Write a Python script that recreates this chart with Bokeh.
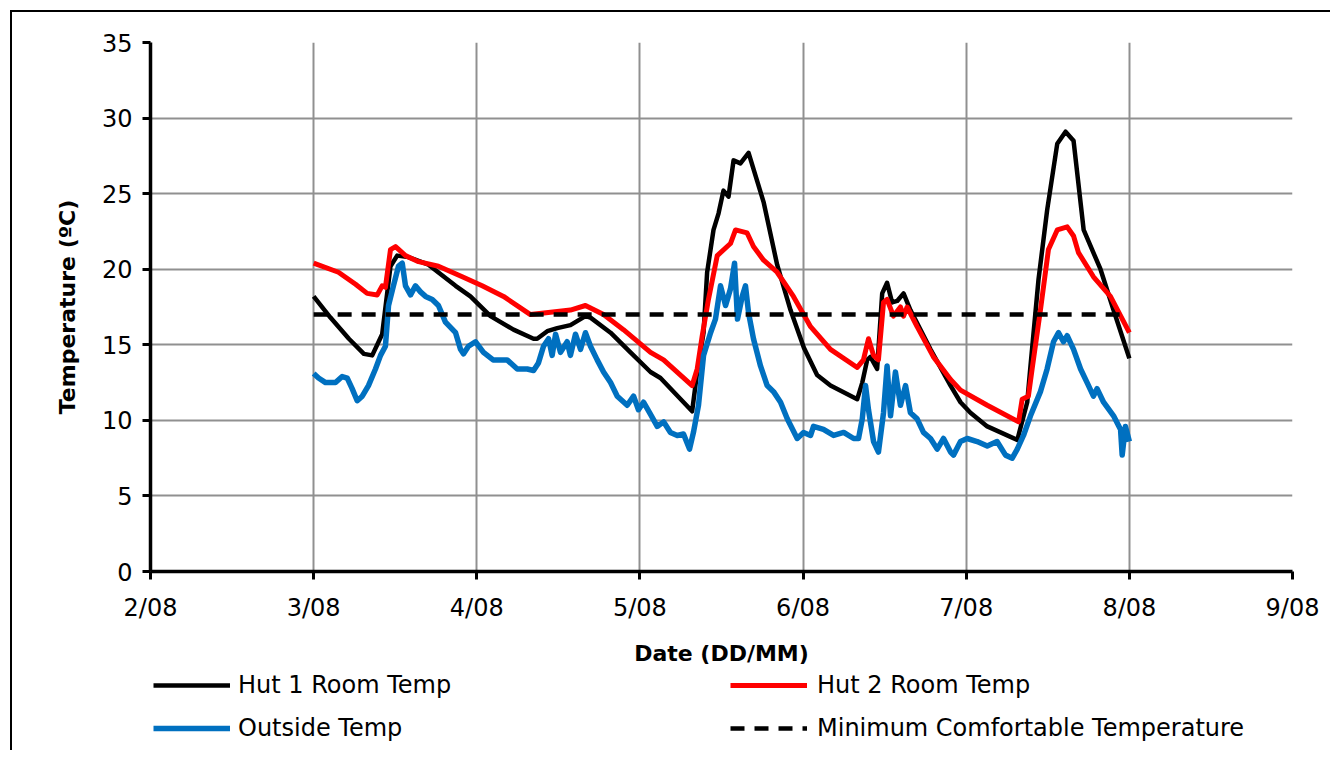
from bokeh.plotting import figure
from bokeh.layouts import column
from bokeh.models import Range1d, FixedTicker, Legend, LegendItem
from bokeh.embed import file_html
from bokeh.resources import INLINE

# ---------------- data ----------------
date_ticks = [2, 3, 4, 5, 6, 7, 8, 9]
date_labels = ["2/08", "3/08", "4/08", "5/08", "6/08", "7/08", "8/08", "9/08"]
temp_ticks = [0, 5, 10, 15, 20, 25, 30, 35]

hut1_day = [3.000, 3.103, 3.216, 3.308, 3.359, 3.420, 3.471, 3.512, 3.581, 3.704,
            3.870, 3.961, 4.084, 4.225, 4.348, 4.370, 4.432, 4.493, 4.574, 4.666,
            4.697, 4.820, 4.942, 5.065, 5.126, 5.320, 5.351, 5.390, 5.412, 5.451,
            5.482, 5.512, 5.543, 5.574, 5.616, 5.666, 5.759, 5.841, 5.923, 6.005,
            6.086, 6.168, 6.332, 6.363, 6.393, 6.413, 6.454, 6.485, 6.515, 6.546,
            6.577, 6.616, 6.658, 6.781, 6.904, 6.965, 7.026, 7.129, 7.313, 7.374,
            7.394, 7.443, 7.496, 7.558, 7.609, 7.658, 7.720, 7.823, 7.903, 8.000]
hut1_temp = [18.2, 16.8, 15.4, 14.4, 14.3, 15.7, 20.2, 20.9, 20.8, 20.3,
             18.9, 18.2, 16.9, 16.0, 15.4, 15.4, 15.9, 16.1, 16.3, 16.9,
             16.8, 15.8, 14.5, 13.2, 12.8, 10.6, 13.2, 15.8, 19.8, 22.6,
             23.7, 25.2, 24.8, 27.2, 27.0, 27.7, 24.4, 20.3, 17.3, 14.8,
             13.0, 12.3, 11.4, 12.5, 14.0, 14.2, 13.4, 18.4, 19.1, 17.8,
             17.9, 18.4, 17.3, 14.7, 12.3, 11.2, 10.5, 9.6, 8.7, 11.2,
             13.6, 19.3, 23.9, 28.3, 29.1, 28.5, 22.6, 20.0, 17.3, 14.1]

hut2_day = [3.000, 3.152, 3.257, 3.328, 3.390, 3.420, 3.440, 3.471, 3.502, 3.563,
            3.643, 3.765, 3.911, 4.033, 4.164, 4.329, 4.493, 4.574, 4.666, 4.777,
            4.899, 5.065, 5.145, 5.320, 5.351, 5.382, 5.420, 5.474, 5.555, 5.586,
            5.657, 5.696, 5.758, 5.841, 5.941, 6.046, 6.168, 6.332, 6.370, 6.401,
            6.432, 6.462, 6.493, 6.515, 6.554, 6.597, 6.616, 6.638, 6.699, 6.799,
            6.904, 6.965, 7.129, 7.321, 7.343, 7.381, 7.404, 7.455, 7.504, 7.558,
            7.619, 7.658, 7.688, 7.780, 7.884, 8.000]
hut2_temp = [20.4, 19.8, 19.0, 18.4, 18.3, 18.9, 18.8, 21.3, 21.5, 20.9,
             20.5, 20.2, 19.5, 18.9, 18.2, 17.0, 17.2, 17.3, 17.6, 17.0,
             16.0, 14.5, 14.0, 12.3, 13.4, 15.6, 18.0, 20.9, 21.7, 22.6,
             22.4, 21.5, 20.6, 19.8, 18.2, 16.2, 14.7, 13.5, 14.0, 15.4,
             14.3, 14.0, 17.8, 18.0, 16.9, 17.5, 16.9, 17.5, 16.2, 14.2,
             12.7, 12.0, 11.0, 9.9, 11.4, 11.6, 13.4, 17.3, 21.3, 22.6,
             22.8, 22.2, 21.1, 19.5, 18.2, 15.8]

outside_day = [3.000, 3.030, 3.073, 3.134, 3.175, 3.206, 3.236, 3.267, 3.298, 3.336,
               3.379, 3.410, 3.440, 3.459, 3.489, 3.520, 3.543, 3.563, 3.594, 3.624,
               3.655, 3.686, 3.727, 3.765, 3.808, 3.870, 3.900, 3.919, 3.949, 3.992,
               4.041, 4.100, 4.186, 4.248, 4.309, 4.348, 4.378, 4.409, 4.440, 4.462,
               4.483, 4.513, 4.554, 4.574, 4.605, 4.636, 4.666, 4.697, 4.738, 4.777,
               4.820, 4.861, 4.922, 4.961, 4.991, 5.022, 5.065, 5.106, 5.145, 5.187,
               5.229, 5.267, 5.304, 5.328, 5.359, 5.390, 5.433, 5.463, 5.494, 5.525,
               5.555, 5.580, 5.598, 5.627, 5.647, 5.666, 5.696, 5.739, 5.780, 5.819,
               5.862, 5.903, 5.964, 6.003, 6.046, 6.064, 6.125, 6.187, 6.249, 6.310,
               6.340, 6.363, 6.383, 6.401, 6.432, 6.462, 6.493, 6.515, 6.536, 6.566,
               6.597, 6.628, 6.658, 6.699, 6.738, 6.781, 6.822, 6.861, 6.904, 6.922,
               6.965, 7.006, 7.067, 7.129, 7.189, 7.241, 7.282, 7.313, 7.351, 7.394,
               7.455, 7.496, 7.535, 7.566, 7.596, 7.619, 7.658, 7.701, 7.741, 7.780,
               7.802, 7.842, 7.903, 7.946, 7.956, 7.976, 8.000]
outside_temp = [13.1, 12.8, 12.5, 12.5, 12.9, 12.8, 12.1, 11.3, 11.6, 12.3,
                13.4, 14.3, 14.9, 17.6, 18.9, 20.2, 20.4, 18.9, 18.3, 18.9,
                18.5, 18.2, 18.0, 17.6, 16.5, 15.8, 14.7, 14.4, 14.9, 15.2,
                14.5, 14.0, 14.0, 13.4, 13.4, 13.3, 13.8, 14.9, 15.4, 14.3,
                15.7, 14.5, 15.2, 14.3, 15.7, 14.7, 15.8, 14.9, 14.0, 13.2,
                12.5, 11.6, 11.0, 11.6, 10.7, 11.2, 10.4, 9.6, 9.9, 9.2,
                9.0, 9.1, 8.1, 9.2, 11.0, 14.3, 15.8, 16.7, 18.9, 17.6,
                18.7, 20.4, 16.7, 18.2, 18.9, 17.1, 15.4, 13.6, 12.3, 11.9,
                11.2, 10.1, 8.8, 9.2, 9.0, 9.6, 9.4, 9.0, 9.2, 8.8,
                8.8, 10.1, 12.3, 10.7, 8.6, 7.9, 10.5, 13.6, 10.3, 13.2,
                11.0, 12.3, 10.5, 10.1, 9.2, 8.8, 8.1, 8.8, 7.9, 7.7,
                8.6, 8.8, 8.6, 8.3, 8.6, 7.7, 7.5, 8.1, 9.0, 10.3,
                11.9, 13.4, 15.2, 15.8, 15.2, 15.6, 14.7, 13.4, 12.5, 11.6,
                12.1, 11.2, 10.3, 9.4, 7.7, 9.6, 8.6]

min_comfort_day = [3.0, 8.0]
min_comfort_temp = [17.0, 17.0]

series_names = ["Hut 1 Room Temp", "Hut 2 Room Temp", "Outside Temp",
                "Minimum Comfortable Temperature"]
series_data = [(hut1_day, hut1_temp), (hut2_day, hut2_temp),
               (outside_day, outside_temp), (min_comfort_day, min_comfort_temp)]

# ---------------- styles ----------------
FONT = "DejaVu Sans"
styles = [
    dict(line_color="#000000", line_width=4.5, line_join="round"),
    dict(line_color="#FF0000", line_width=5, line_join="round"),
    dict(line_color="#0070C0", line_width=5.5, line_join="round"),
    dict(line_color="#000000", line_width=4.5, line_dash="14 10"),
]

# ---------------- main chart ----------------
p = figure(width=1318, height=656, output_backend="svg", toolbar_location=None,
           x_range=Range1d(2, 9), y_range=Range1d(0, 35),
           min_border_left=138, min_border_right=38,
           min_border_top=30, min_border_bottom=95)
p.outline_line_color = None
p.background_fill_color = "white"
p.border_fill_color = "white"

for (xs, ys), st in zip(series_data, styles):
    p.line(xs, ys, **st)

p.xaxis.ticker = FixedTicker(ticks=date_ticks)
p.xaxis.major_label_overrides = {t: l for t, l in zip(date_ticks, date_labels)}
p.yaxis.ticker = FixedTicker(ticks=temp_ticks)
p.xaxis.axis_label = "Date (DD/MM)"
p.yaxis.axis_label = "Temperature (ºC)"

for ax in (p.xaxis, p.yaxis):
    ax.axis_line_color = "black"
    ax.axis_line_width = 3.5
    ax.major_tick_line_color = "black"
    ax.major_tick_line_width = 3
    ax.major_tick_out = 8
    ax.major_tick_in = 0
    ax.minor_tick_line_color = None
    ax.major_label_text_font = FONT
    ax.major_label_text_font_size = "24px"
    ax.major_label_text_color = "black"
    ax.axis_label_text_font = FONT
    ax.axis_label_text_font_size = "22px"
    ax.axis_label_text_font_style = "bold"
    ax.axis_label_text_color = "black"

p.xaxis.major_label_standoff = 14
p.xaxis.axis_label_standoff = 16
p.yaxis.major_label_standoff = 10
p.yaxis.axis_label_standoff = 19

p.xgrid.ticker = FixedTicker(ticks=date_ticks)
p.ygrid.ticker = FixedTicker(ticks=temp_ticks)
for g in (p.xgrid, p.ygrid):
    g.grid_line_color = "#909090"
    g.grid_line_width = 2

# ---------------- legend strip (frame aligned with the chart frame) ----------------
lf = figure(width=1318, height=82, output_backend="svg", toolbar_location=None,
            x_range=Range1d(0, 1), y_range=Range1d(0, 1),
            x_axis_location=None, y_axis_location=None, min_border=0)
lf.outline_line_color = None
lf.xgrid.visible = False
lf.ygrid.visible = False
lf.border_fill_color = "white"
lf.background_fill_color = "white"

# same series drawn here (outside the strip's visible range) only to key the legend
proxies = [lf.line(xs, ys, **st) for (xs, ys), st in zip(series_data, styles)]

common = dict(orientation="vertical", glyph_width=77, glyph_height=28,
              label_height=28, spacing=15, padding=0, margin=0,
              border_line_color=None, background_fill_alpha=0,
              label_text_font=FONT, label_text_font_size="24px",
              label_text_color="black")
leg1 = Legend(items=[LegendItem(label=series_names[0], renderers=[proxies[0]]),
                     LegendItem(label=series_names[2], renderers=[proxies[2]])],
              location=(3, 8), label_standoff=8, **common)
leg2 = Legend(items=[LegendItem(label=series_names[1], renderers=[proxies[1]]),
                     LegendItem(label=series_names[3], renderers=[proxies[3]])],
              location=(580, 8), label_standoff=10, **common)
lf.add_layout(leg1, "center")
lf.add_layout(leg2, "center")

layout = column(p, lf, spacing=0)
layout.styles = {"margin-left": "10px", "margin-top": "10px",
                 "border-left": "2px solid black", "border-top": "2px solid black",
                 "background-color": "white"}

open("out.html", "w").write(file_html(layout, INLINE))
